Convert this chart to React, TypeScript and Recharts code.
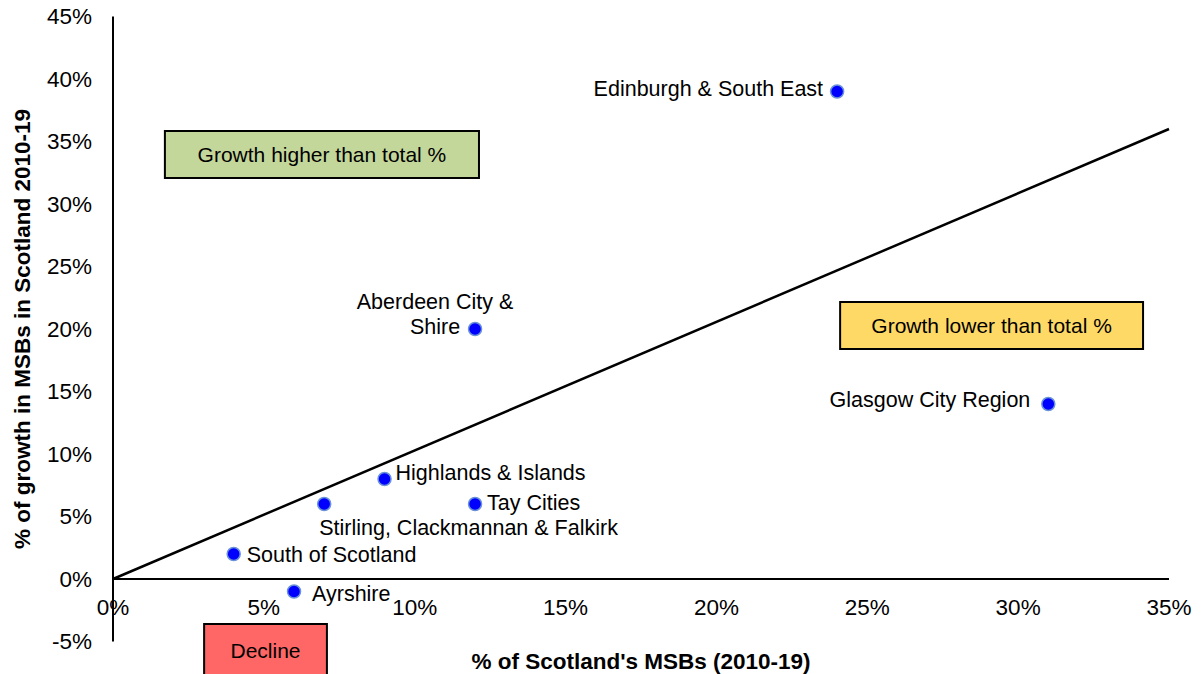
import { ScatterChart, Scatter, XAxis, YAxis, ReferenceLine, ReferenceArea, Label } from 'recharts';

const regions = [
  'Edinburgh & South East',
  'Aberdeen City & Shire',
  'Glasgow City Region',
  'Highlands & Islands',
  'Tay Cities',
  'Stirling, Clackmannan & Falkirk',
  'South of Scotland',
  'Ayrshire',
];
const shareOfMsbs = [24, 12, 31, 9, 12, 7, 4, 6];
const growthInMsbs = [39, 20, 14, 8, 6, 6, 2, -1];

const xTicks = [0, 5, 10, 15, 20, 25, 30, 35];
const yTicks = [-5, 0, 5, 10, 15, 20, 25, 30, 35, 40, 45];

// total % line (growth equal to total)
const totalLineStart = { x: 0, y: 0 };
const totalLineEnd = { x: 35, y: 36 };

// label placement per point
const labelLayout: Record<string, { lines: string[]; anchor: 'start' | 'middle' | 'end'; dx: number; dy: number }> = {
  'Edinburgh & South East': { lines: ['Edinburgh & South East'], anchor: 'end', dx: -14, dy: -3 },
  'Aberdeen City & Shire': { lines: ['Aberdeen City &', 'Shire'], anchor: 'middle', dx: -40, dy: -27 },
  'Glasgow City Region': { lines: ['Glasgow City Region'], anchor: 'end', dx: -18, dy: -4 },
  'Highlands & Islands': { lines: ['Highlands & Islands'], anchor: 'start', dx: 11, dy: -6 },
  'Tay Cities': { lines: ['Tay Cities'], anchor: 'start', dx: 12, dy: -1 },
  'Stirling, Clackmannan & Falkirk': { lines: ['Stirling, Clackmannan & Falkirk'], anchor: 'start', dx: -5, dy: 24 },
  'South of Scotland': { lines: ['South of Scotland'], anchor: 'start', dx: 13, dy: 1 },
  Ayrshire: { lines: ['Ayrshire'], anchor: 'start', dx: 18, dy: 2 },
};

const data = regions.map((name, i) => ({ name, x: shareOfMsbs[i], y: growthInMsbs[i] }));

const W = 1202;
const H = 674;
const PLOT_TOP = 16.5;
const PLOT_H = 625;
const ZERO_Y = PLOT_TOP + (PLOT_H * 45) / 50;
const FONT = '"Liberation Sans", Arial, sans-serif';

const Marker = (props: any) => {
  const { cx, cy, payload } = props;
  const lay = labelLayout[payload.name];
  return (
    <g>
      <circle cx={cx} cy={cy} r={6.5} fill="#0000FF" stroke="#6A92D8" strokeWidth={1.5} />
      {lay.lines.map((ln, i) => (
        <text
          key={i}
          x={cx + lay.dx}
          y={cy + lay.dy + i * 25}
          textAnchor={lay.anchor}
          dominantBaseline="central"
          fontSize={21.5}
          fill="#000"
        >
          {ln}
        </text>
      ))}
    </g>
  );
};

const XTick = (props: any) => (
  <text x={props.x} y={ZERO_Y + 28} textAnchor="middle" dominantBaseline="central" fontSize={22.5} fill="#000">
    {props.payload.value}%
  </text>
);

const boxLabel = (value: string) => ({ value, position: 'center' as const, fill: '#000', fontSize: 21 });

export default function App() {
  return (
    <div style={{ position: 'absolute', left: 0, top: 0, width: W, height: H, background: '#fff', fontFamily: FONT }}>
      <ScatterChart width={W} height={H} margin={{ top: PLOT_TOP, right: 33, bottom: 0, left: 0 }}>
        <XAxis
          type="number"
          dataKey="x"
          domain={[0, 35]}
          ticks={xTicks}
          axisLine={false}
          tickLine={false}
          tickSize={0}
          tick={<XTick />}
          height={32.5}
          interval={0}
        >
          <Label
            content={() => (
              <text x={641} y={661} textAnchor="middle" dominantBaseline="central" fontSize={22.5} fontWeight="bold" fill="#000">
                % of Scotland's MSBs (2010-19)
              </text>
            )}
          />
        </XAxis>
        <YAxis
          type="number"
          dataKey="y"
          domain={[-5, 45]}
          ticks={yTicks}
          axisLine={{ stroke: '#000', strokeWidth: 2 }}
          tickLine={false}
          tickSize={0}
          tickMargin={21}
          tick={{ fill: '#000', fontSize: 22.5 }}
          tickFormatter={(v: number) => `${v}%`}
          width={113}
          interval={0}
        >
          <Label
            content={() => (
              <text
                x={22}
                y={329}
                transform="rotate(-90 22 329)"
                textAnchor="middle"
                dominantBaseline="central"
                fontSize={22.5}
                fontWeight="bold"
                fill="#000"
              >
                % of growth in MSBs in Scotland 2010-19
              </text>
            )}
          />
        </YAxis>
        <ReferenceLine y={0} stroke="#000" strokeWidth={2} />
        <ReferenceLine
          segment={[totalLineStart, totalLineEnd]}
          stroke="#000"
          strokeWidth={2.5}
          ifOverflow="visible"
        />
        <ReferenceArea
          x1={1.72}
          x2={12.13}
          y1={32.08}
          y2={35.84}
          fill="#C4D79B"
          fillOpacity={1}
          stroke="#000"
          strokeWidth={2}
          label={boxLabel('Growth higher than total %')}
        />
        <ReferenceArea
          x1={24.1}
          x2={34.14}
          y1={18.4}
          y2={22.16}
          fill="#FFD966"
          fillOpacity={1}
          stroke="#000"
          strokeWidth={2}
          label={boxLabel('Growth lower than total %')}
        />
        <ReferenceArea
          x1={3.02}
          x2={7.09}
          y1={-7.8}
          y2={-3.6}
          fill="#FF6666"
          fillOpacity={1}
          stroke="#000"
          strokeWidth={2}
          ifOverflow="visible"
          label={boxLabel('Decline')}
        />
        <Scatter data={data} shape={<Marker />} isAnimationActive={false} />
      </ScatterChart>
    </div>
  );
}
